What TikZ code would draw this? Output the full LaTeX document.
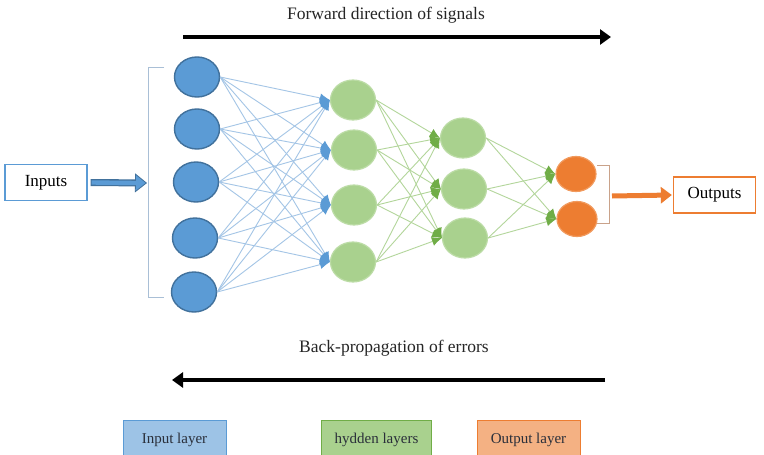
\documentclass[tikz,border=0pt]{standalone}
\usepackage{fontspec}
\setmainfont{Liberation Serif}
\usetikzlibrary{arrows.meta,shapes.geometric}
\definecolor{inblue}{HTML}{5B9BD5}
\definecolor{inbluedark}{HTML}{41719C}
\definecolor{linkblue}{HTML}{A4C5E6}
\definecolor{hidgreen}{HTML}{A9D18E}
\definecolor{hidgreenedge}{HTML}{BCDCA6}
\definecolor{tipgreen}{HTML}{70AD47}
\definecolor{linkgreen}{HTML}{B3D69B}
\definecolor{outorange}{HTML}{ED7D31}
\definecolor{outorangeedge}{HTML}{F19A5E}
\definecolor{legblue}{HTML}{9DC3E6}
\definecolor{legorange}{HTML}{F4B183}
\definecolor{bracketgray}{HTML}{A9BFD6}
\definecolor{bracketor}{HTML}{C9A28A}
\definecolor{legtext}{HTML}{2A2F3A}
\tikzset{
  inneuron/.style={ellipse,minimum width=45pt,minimum height=40pt,inner sep=0pt,fill=inblue,draw=inbluedark,line width=1.4pt},
  hidneuron/.style={ellipse,minimum width=45pt,minimum height=40pt,inner sep=0pt,fill=hidgreen,draw=hidgreenedge,line width=1.2pt},
  outneuron/.style={ellipse,minimum width=40pt,minimum height=35pt,inner sep=0pt,fill=outorange,draw=outorangeedge,line width=1.2pt},
  bluelink/.style={draw=linkblue,line width=0.9pt,-{Latex[length=10pt,width=9pt,color=inblue]}},
  greenlink/.style={draw=linkgreen,line width=0.9pt,-{Latex[length=10pt,width=9pt,color=tipgreen]}},
  iobox/.style={draw,line width=1.3pt,fill=white,minimum width=82pt,minimum height=36pt,inner sep=0pt,font=\fontsize{17}{20}\selectfont},
  legbox/.style={minimum height=40pt,inner sep=0pt,line width=0.6pt,text=legtext,font=\fontsize{15}{18}\selectfont},
  bigtext/.style={font=\fontsize{17.5}{21}\selectfont,inner sep=0pt,text=black!85},
  bigarrow/.style={line width=4.5pt,-{Triangle[length=11pt,width=15pt]}},
}
\begin{document}
\begin{tikzpicture}[x=1pt,y=-1pt]
\useasboundingbox[fill=white] (0,0) rectangle (764,455);
% input neurons
\node[inneuron] (i1) at (197,77) {};
\node[inneuron] (i2) at (197,129) {};
\node[inneuron] (i3) at (196,182) {};
\node[inneuron] (i4) at (195,238) {};
\node[inneuron] (i5) at (194,292) {};
% hidden 1
\node[hidneuron] (a1) at (353,100) {};
\node[hidneuron] (a2) at (354,150) {};
\node[hidneuron] (a3) at (354,205) {};
\node[hidneuron] (a4) at (353,262) {};
% hidden 2
\node[hidneuron] (b1) at (463,138) {};
\node[hidneuron] (b2) at (464,189) {};
\node[hidneuron] (b3) at (465,238) {};
% outputs
\node[outneuron] (o1) at (576,174) {};
\node[outneuron] (o2) at (577,219) {};
% links
\foreach \s in {1,...,5}{\foreach \t in {1,...,4}{\draw[bluelink] (i\s.east) -- (a\t.west);}}
\foreach \s in {1,...,4}{\foreach \t in {1,...,3}{\draw[greenlink] (a\s.east) -- (b\t.west);}}
\foreach \s in {1,...,3}{\foreach \t in {1,2}{\draw[greenlink] (b\s.east) -- (o\t.west);}}
% boxes
\node[iobox,draw=inblue] (inputs) at (46,182.5) {Inputs};
\node[iobox,draw=outorange] (outputs) at (714.5,195) {Outputs};
% brackets
\coordinate (lbt) at (164,67);
\coordinate (lbb) at (164,297);
\coordinate (lbm) at (148,183);
\draw[bracketgray,line width=1pt] (lbt) -- (148,67) -- (148,297) -- (lbb);
\coordinate (rbm) at (609,196);
\draw[bracketor,line width=0.9pt] (597,165) -- (609,165) -- (609,223) -- (597,223);
% input arrow (outlined block arrow)
\draw[inbluedark,line width=7pt,-{Triangle[length=12pt,width=19pt,line width=0.8pt,fill=inblue,color=inbluedark]}] ([xshift=3pt]inputs.east) -- ([xshift=-1pt]lbm);
\draw[inblue,line width=4.4pt] ([xshift=4pt]inputs.east) -- ([xshift=-12pt]lbm);
% output arrow
\draw[outorange,line width=5pt,-{Triangle[length=11pt,width=16pt]}] ([xshift=3pt]rbm) -- ([xshift=-1pt]outputs.west);
% direction arrows
\node[bigtext] (fwd) at (386,15) {Forward direction of signals};
\coordinate (f1) at (183,37);
\coordinate (f2) at (611,37);
\draw[bigarrow] (f1) -- (f2);
\node[bigtext] (bwd) at (394,348) {Back-propagation of errors};
\coordinate (b1s) at (605,380);
\coordinate (b1e) at (172,380);
\draw[bigarrow] (b1s) -- (b1e);
% legend
\node[legbox,fill=legblue,draw=inblue,minimum width=103pt] (lin) at (174.5,440) {Input layer};
\node[legbox,fill=hidgreen,draw=tipgreen,minimum width=110pt] (lhid) at (376.5,440) {hydden layers};
\node[legbox,fill=legorange,draw=outorange,minimum width=103pt] (lout) at (528.5,440) {Output layer};
\end{tikzpicture}
\end{document}
